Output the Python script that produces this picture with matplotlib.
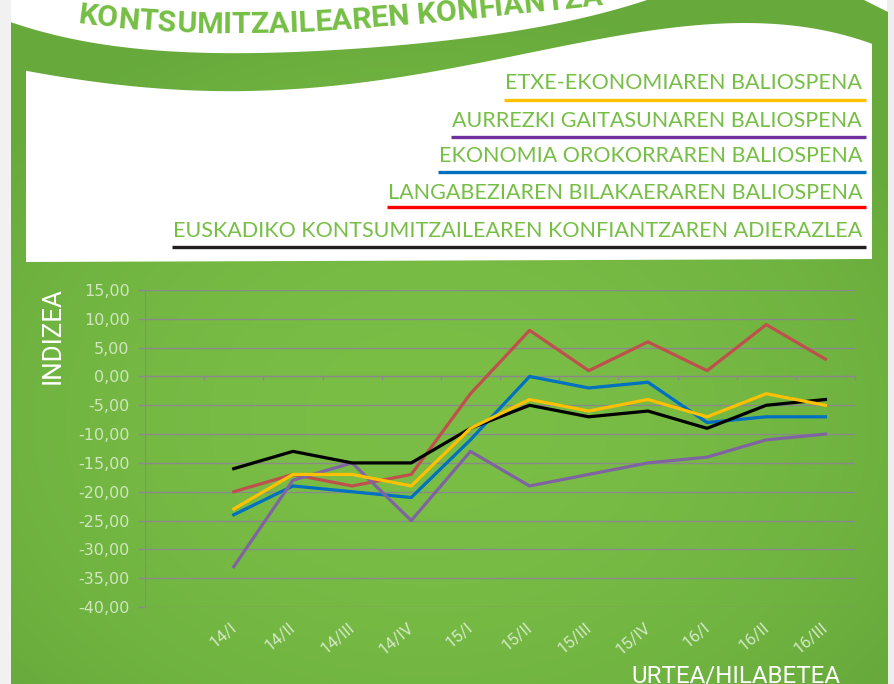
import numpy as np
import matplotlib
matplotlib.use('Agg')
import matplotlib.pyplot as plt
from matplotlib.patches import Polygon
from matplotlib.font_manager import FontProperties
from matplotlib import transforms

# data
periods = ['14/I', '14/II', '14/III', '14/IV', '15/I', '15/II',
           '15/III', '15/IV', '16/I', '16/II', '16/III']
etxe = [-23, -17, -17, -19, -9, -4, -6, -4, -7, -3, -5]
aurrezki = [-33, -18, -15, -25, -13, -19, -17, -15, -14, -11, -10]
ekonomia = [-24, -19, -20, -21, -11, 0, -2, -1, -8, -7, -7]
langabezia = [-20, -17, -19, -17, -3, 8, 1, 6, 1, 9, 3]
indizea = [-16, -13, -15, -15, -9, -5, -7, -6, -9, -5, -4]

legend_labels = ['ETXE-EKONOMIAREN BALIOSPENA',
                 'AURREZKI GAITASUNAREN BALIOSPENA',
                 'EKONOMIA OROKORRAREN BALIOSPENA',
                 'LANGABEZIAREN BILAKAERAREN BALIOSPENA',
                 'EUSKADIKO KONTSUMITZAILEAREN KONFIANTZAREN ADIERAZLEA']
legend_colors = ['#FFC000', '#7030A0', '#0070C0', '#FF0000', '#231F20']
title = 'KONTSUMITZAILEAREN KONFIANTZA'
yticks = list(range(-40, 16, 5))

W, H = 894, 684
narrow = ['Roboto', 'DejaVu Sans']
green_txt = '#76BE45'

fig = plt.figure(figsize=(W / 100, H / 100), dpi=100)
fig.patch.set_facecolor('white')
renderer = fig.canvas.get_renderer()


def text_w(s, fp):
    return renderer.get_text_width_height_descent(s, fp, ismath=False)[0]


def fit_size(s, fp, target):
    # scale font size so that the string is `target` pixels wide
    fp = fp.copy()
    fp.set_size(fp.get_size() * target / text_w(s, fp))
    return fp


# background drawn in pixel coordinates
bg = fig.add_axes([0, 0, 1, 1], zorder=0)
bg.set_xlim(0, W)
bg.set_ylim(H, 0)
bg.axis('off')

# light grey side margins
bg.add_patch(Polygon([(0, 0), (11, 0), (11, H), (0, H)], closed=True,
                     facecolor='#f1f1f1', edgecolor='none'))
bg.add_patch(Polygon([(887, 0), (W, 0), (W, H), (887, H)], closed=True,
                     facecolor='#eeeeee', edgecolor='none'))

# green panel with wavy top
gcx = [11, 60, 100, 150, 200, 300, 400, 480, 560, 620, 660]
gcy = [22, 36, 45, 50, 52, 51, 46, 37, 22, 8, -4]
gx = np.linspace(11, 660, 80)
gtop = np.polyval(np.polyfit(gcx, gcy, 4), gx)
green_pts = list(zip(gx, gtop)) + [(860, -2), (872, 4), (888, 12), (888, H), (11, H)]
green_poly = Polygon(green_pts, closed=True, facecolor='none', edgecolor='none')
bg.add_patch(green_poly)

yy, xx = np.mgrid[0:H, 0:W]
t = ((xx - 430) / 560.0) ** 2 + ((yy - 420) / 420.0) ** 2
t = np.clip(t, 0, 1)[..., None]
light = np.array([0.478, 0.745, 0.275])
dark = np.array([0.405, 0.668, 0.235])
grad = light + (dark - light) * t
im = bg.imshow(grad, extent=(0, W, H, 0), zorder=1, interpolation='bilinear')
im.set_clip_path(green_poly)

# white legend box
wx = np.array([26, 100, 150, 200, 300, 400, 493, 600, 700, 768, 836, 872])
wy = np.array([71, 82, 88, 90, 91, 75, 60, 40, 25, 23, 33, 44])
fx = np.linspace(26, 872, 120)
fy = np.polyval(np.polyfit(wx, wy, 5), fx)
box_pts = list(zip(fx, fy)) + [(872, 259), (26, 262)]
bg.add_patch(Polygon(box_pts, closed=True, facecolor='white',
                     edgecolor='none', zorder=2))

# curved title
tfp = fit_size('KONTSUMITZAILEAREN',
               FontProperties(family=narrow, weight='bold', size=22), 333)
cx = [77, 150, 220, 290, 350, 410, 450, 520, 600]
cy = [23, 30, 33, 32, 29, 25, 20, 13, 5]
coef = np.polyfit(cx, cy, 3)
xs = np.linspace(77, 800, 3000)
ys = np.polyval(coef, xs)
arc = np.concatenate([[0], np.cumsum(np.hypot(np.diff(xs), np.diff(ys)))])
for i, ch in enumerate(title):
    w0 = text_w(title[:i], tfp) if i else 0
    w1 = text_w(title[:i + 1], tfp)
    px = np.interp((w0 + w1) / 2, arc, xs)
    py = np.polyval(coef, px)
    ang = -np.degrees(np.arctan(np.polyval(np.polyder(coef), px)))
    bg.text(px, py, ch, fontproperties=tfp, color=green_txt, ha='center',
            va='baseline', rotation=ang, rotation_mode='anchor', zorder=3)

# legend: right aligned text with coloured underline
lfp = FontProperties(family=['Lato', 'DejaVu Sans'], size=15.5)
baselines = [89, 127, 162, 199, 237]
ulines = [100, 137, 172, 207, 247]
for lab, col, by, uy in zip(legend_labels, legend_colors, baselines, ulines):
    bg.text(862, by, lab, fontproperties=lfp, color=green_txt, ha='right',
            va='baseline', zorder=3)
    tw = text_w(lab, lfp)
    bg.plot([862 - tw - 1, 866], [uy, uy], color=col, lw=2.4,
            solid_capstyle='butt', zorder=3)

# chart
ax = fig.add_axes([145 / W, 1 - 607 / H, 710 / W, 317 / H], zorder=2)
ax.set_facecolor('none')
x = np.arange(1, len(periods) + 1)
ax.plot(x, langabezia, color='#C0504D', lw=2.3, zorder=3)
ax.plot(x, ekonomia, color='#0070C0', lw=2.3, zorder=3)
ax.plot(x, aurrezki, color='#8064A2', lw=2.3, zorder=3)
ax.plot(x, indizea, color='#000000', lw=2.3, zorder=3)
ax.plot(x, etxe, color='#FFC000', lw=2.3, zorder=3)

ax.set_xlim(-0.5, len(periods) + 0.5)
ax.set_ylim(-40, 15)
ax.set_yticks(yticks)
ax.set_yticklabels([f'{v:.2f}'.replace('.', ',') for v in yticks])
ax.yaxis.grid(True, color='#8a8a8a', lw=1.0)
ax.set_axisbelow(True)
ax.tick_params(axis='y', colors='#8a8a8a', length=5, width=1.0,
               labelcolor='#d0e5c0', labelsize=11.5, pad=6)
for sp in ['top', 'right']:
    ax.spines[sp].set_visible(False)
ax.spines['left'].set_color('#8a8a8a')
ax.spines['bottom'].set_color('#8a8a8a')
ax.spines['bottom'].set_position(('data', 0))
ax.set_xticks(np.arange(-0.5, len(periods) + 1, 1.0))
ax.tick_params(axis='x', colors='#8a8a8a', length=3, width=1.0,
               direction='out', labelbottom=False)

lab_tr = transforms.offset_copy(ax.get_xaxis_transform(), fig=fig, x=-4, y=-13, units='dots')
for xi, p in zip(x, periods):
    ax.text(xi, 0, p, transform=lab_tr, rotation=40, ha='right', va='top',
            rotation_mode='anchor', color='#d3e8c4', fontsize=12,
            family=narrow)

ifp = fit_size('INDIZEA', FontProperties(family=narrow, size=20), 97)
fig.text(53 / W, 1 - 336 / H, 'INDIZEA', rotation=90, ha='center', va='center',
         color='white', fontproperties=ifp)
ufp = fit_size('URTEA/HILABETEA', FontProperties(family=narrow, size=20), 209)
fig.text(736 / W, 1 - 682 / H, 'URTEA/HILABETEA', ha='center', va='baseline',
         color='white', fontproperties=ufp)

fig.savefig('out.png', dpi=100)
